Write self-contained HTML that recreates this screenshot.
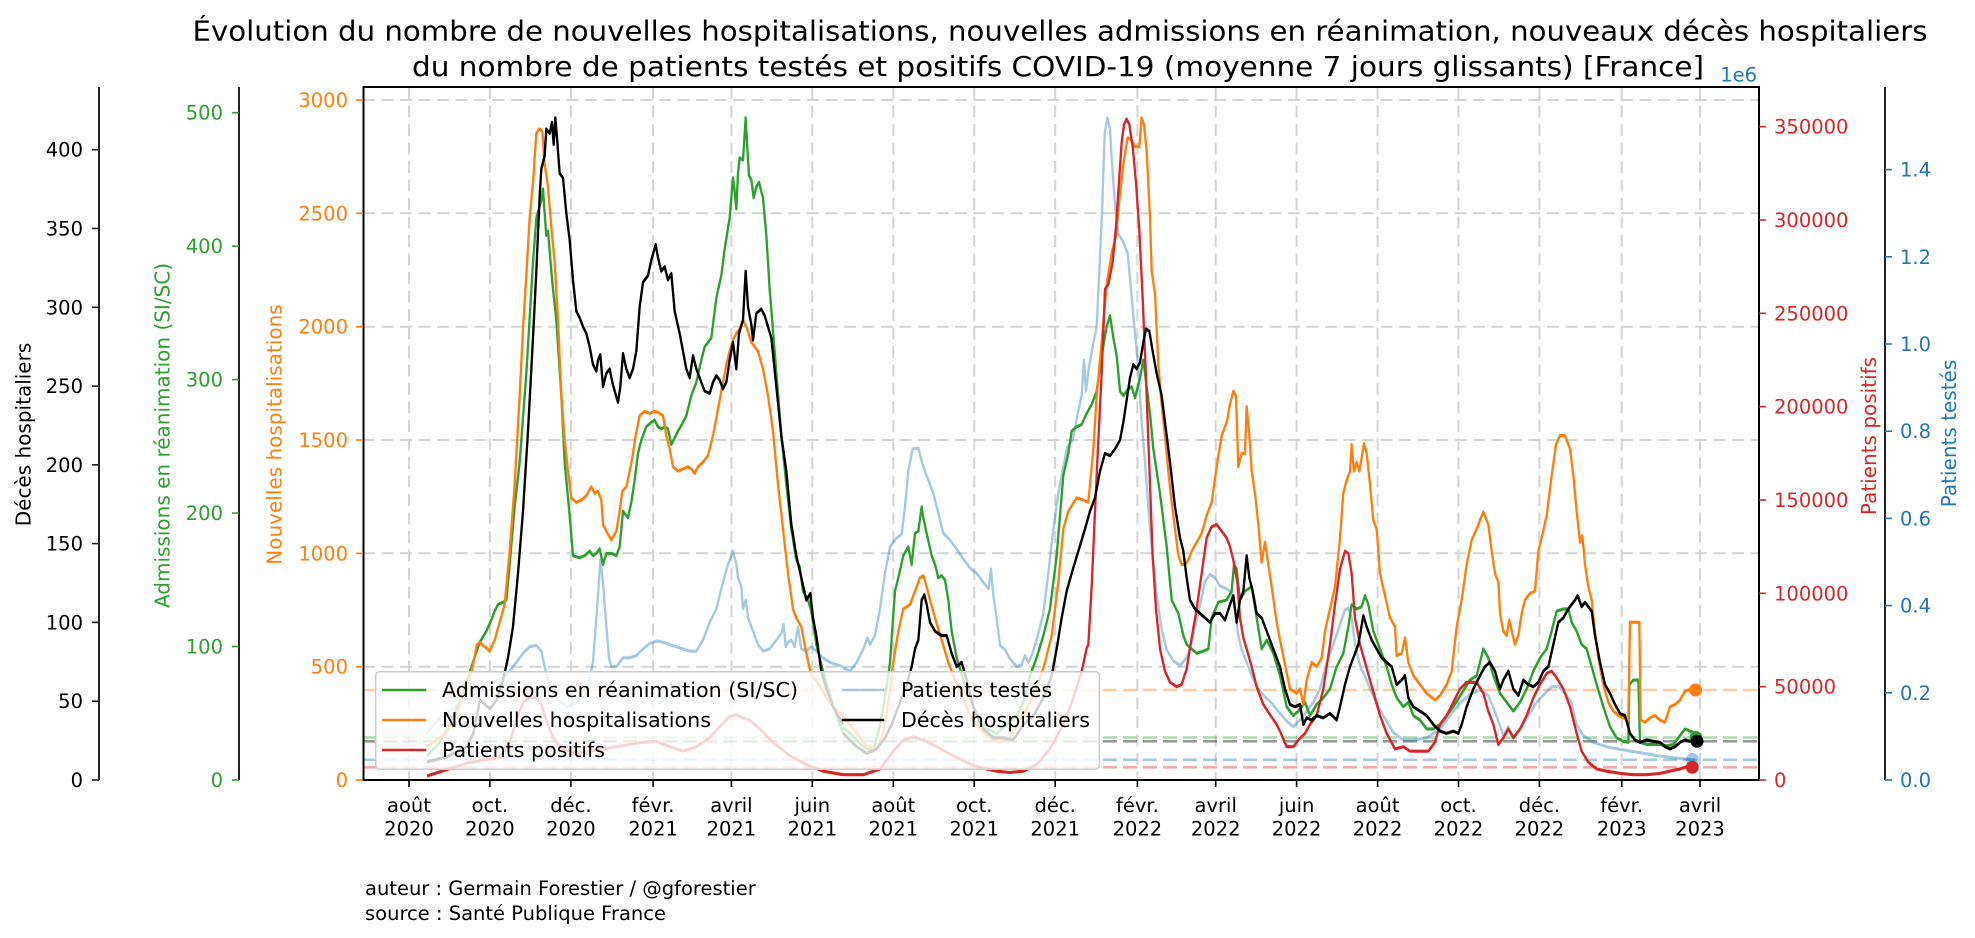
<!DOCTYPE html>
<html><head><meta charset="utf-8"><style>
html,body{margin:0;padding:0;background:#fff;}
svg{display:block;font-family:"DejaVu Sans","Liberation Sans",sans-serif;}
.s{fill:none;stroke-width:7;stroke-linejoin:round;stroke-linecap:butt;}
.t{font-size:19.5px;}
</style></head><body>
<svg width="1975" height="938" viewBox="0 0 1975 938" xmlns="http://www.w3.org/2000/svg">
<rect width="1975" height="938" fill="#fff"/>
<defs><clipPath id="c"><rect x="364" y="87" width="1395" height="693"/></clipPath></defs>

<!-- title -->
<text x="1060" y="40.7" font-size="28" text-anchor="middle" textLength="1735" lengthAdjust="spacingAndGlyphs">Évolution du nombre de nouvelles hospitalisations, nouvelles admissions en réanimation, nouveaux décès hospitaliers</text>
<text x="1058" y="76" font-size="28" text-anchor="middle" textLength="1292" lengthAdjust="spacingAndGlyphs">du nombre de patients testés et positifs COVID-19 (moyenne 7 jours glissants) [France]</text>

<!-- grid -->
<g stroke="#d4d4d4" stroke-width="2" stroke-dasharray="12 6.5">
<line x1="409" y1="87" x2="409" y2="780"/><line x1="489.9" y1="87" x2="489.9" y2="780"/><line x1="570.9" y1="87" x2="570.9" y2="780"/><line x1="653.1" y1="87" x2="653.1" y2="780"/><line x1="731.4" y1="87" x2="731.4" y2="780"/><line x1="812.3" y1="87" x2="812.3" y2="780"/><line x1="893.3" y1="87" x2="893.3" y2="780"/><line x1="974.2" y1="87" x2="974.2" y2="780"/><line x1="1055.2" y1="87" x2="1055.2" y2="780"/><line x1="1137.4" y1="87" x2="1137.4" y2="780"/><line x1="1215.7" y1="87" x2="1215.7" y2="780"/><line x1="1296.6" y1="87" x2="1296.6" y2="780"/><line x1="1377.6" y1="87" x2="1377.6" y2="780"/><line x1="1458.5" y1="87" x2="1458.5" y2="780"/><line x1="1539.4" y1="87" x2="1539.4" y2="780"/><line x1="1621.7" y1="87" x2="1621.7" y2="780"/><line x1="1700" y1="87" x2="1700" y2="780"/>
<line x1="363" y1="666.7" x2="1759" y2="666.7"/><line x1="363" y1="553.3" x2="1759" y2="553.3"/><line x1="363" y1="440" x2="1759" y2="440"/><line x1="363" y1="326.7" x2="1759" y2="326.7"/><line x1="363" y1="213.3" x2="1759" y2="213.3"/><line x1="363" y1="100" x2="1759" y2="100"/>
</g>

<!-- last value dashed lines -->
<g stroke-width="2.6" stroke-dasharray="14 6">
<line x1="363" y1="690" x2="1759" y2="690" stroke="#ff7f0e" stroke-opacity="0.4"/>
<line x1="363" y1="737.5" x2="1759" y2="737.5" stroke="#2ca02c" stroke-opacity="0.4"/>
<line x1="363" y1="741.3" x2="1759" y2="741.3" stroke="#000" stroke-opacity="0.4"/>
<line x1="363" y1="759.8" x2="1759" y2="759.8" stroke="#1f77b4" stroke-opacity="0.4"/>
<line x1="363" y1="767.3" x2="1759" y2="767.3" stroke="#d62728" stroke-opacity="0.4"/>
</g>

<g clip-path="url(#c)">
<!-- segment 1 -->
<g transform="translate(363,84.5) scale(0.333333,0.44444)">
<path class="s" stroke="#1f77b4" stroke-opacity="0.4" d="M192,1460 L230,1425 280,1398 330,1375 380,1350 430,1330 460,1300 480,1280 500,1265 520,1262 535,1275 545,1310 555,1340 580,1380 610,1400 640,1392 670,1372 690,1300 705,1150 712,1070 720,1120 728,1200 738,1290 745,1310 760,1310 770,1300 780,1290 800,1290 820,1285 840,1270 860,1258 880,1252 900,1255 920,1260 940,1265 960,1270 980,1275 1000,1275 1020,1250 1040,1210 1060,1180 1080,1120 1095,1080 1110,1050 1120,1080 1125,1110 1135,1130 1140,1180 1148,1160 1155,1200 1170,1230 1185,1260 1200,1275 1220,1270 1240,1250 1255,1235 1262,1215 1268,1265 1275,1255 1285,1250 1295,1265 1305,1220 1315,1270 1330,1275 1345,1265 1360,1275 1380,1290 1400,1300 1420,1305 1440,1310"/>
<path class="s" stroke="#2ca02c" d="M192,1511 L230,1480 260,1440 290,1390 310,1345 330,1300 350,1255 370,1230 385,1205 395,1185 405,1170 420,1165 430,1160 440,1080 455,950 470,850 490,650 510,400 520,300 535,260 540,235 545,290 550,340 555,330 565,420 570,460 580,530 595,700 605,850 620,970 630,1060 650,1065 665,1060 680,1050 690,1060 700,1055 710,1045 720,1080 730,1055 745,1055 760,1060 770,1040 780,960 795,975 805,940 815,890 825,830 835,800 850,770 865,760 875,755 885,770 895,775 905,770 915,775 925,810 935,795 945,780 960,760 970,745 985,700 1000,670 1015,620 1025,590 1045,570 1060,480 1075,430 1085,370 1100,300 1110,210 1115,240 1120,280 1125,200 1130,165 1140,170 1148,75 1152,130 1158,205 1165,215 1172,255 1180,230 1188,220 1200,255 1210,340 1220,460 1235,600 1255,790 1270,900 1285,1000 1300,1070 1310,1085 1320,1140 1335,1160 1345,1185 1360,1260 1380,1320 1400,1370 1420,1420 1440,1460"/>
<path class="s" stroke="#ff7f0e" d="M192,1490 L251,1459 290,1400 326,1321 341,1262 350,1255 365,1265 380,1275 395,1250 410,1210 425,1170 440,1050 455,900 470,700 480,550 490,430 500,300 510,220 520,110 528,100 538,105 545,180 555,230 565,320 575,400 585,530 595,700 605,800 615,870 625,930 640,940 655,935 670,925 685,905 695,920 705,915 715,935 720,990 730,1005 745,1025 760,1005 770,960 778,915 790,905 800,870 808,840 818,790 830,745 845,735 860,740 875,735 890,740 900,745 910,790 920,820 930,860 945,870 960,865 975,860 985,865 995,875 1005,860 1020,850 1035,835 1050,790 1065,730 1075,690 1090,630 1100,600 1110,575 1120,560 1130,550 1140,530 1150,545 1165,580 1185,600 1200,640 1215,700 1230,780 1245,900 1260,1000 1275,1100 1290,1180 1300,1200 1315,1220 1330,1280 1345,1330 1360,1340 1375,1360 1390,1380 1410,1400 1440,1420"/>
<path class="s" stroke="#d62728" d="M192,1556 L311,1527 411,1513 440,1480 460,1430 480,1390 500,1378 520,1380 535,1395 550,1430 570,1470 600,1495 640,1505 680,1500 720,1495 760,1490 800,1485 840,1480 880,1478 920,1490 960,1500 1000,1490 1040,1470 1070,1445 1100,1422 1120,1418 1140,1425 1160,1430 1190,1450 1230,1480 1280,1510 1330,1530 1380,1545 1440,1553"/>
<path class="s" stroke="#000" d="M192,1524 L251,1513 311,1490 331,1460 351,1385 381,1405 401,1385 420,1340 435,1290 450,1220 465,1100 480,960 495,780 510,570 520,420 530,250 535,190 545,160 550,100 560,110 567,85 572,135 577,75 582,120 590,200 600,210 610,290 620,350 630,440 640,510 650,525 660,545 670,560 680,590 690,630 700,645 705,620 712,608 720,680 730,650 740,640 748,670 755,690 765,715 772,680 780,605 790,640 800,660 810,640 820,600 830,500 840,445 855,430 865,395 878,360 885,390 895,420 905,410 915,440 925,425 935,510 950,560 960,600 970,640 980,660 990,610 1000,640 1015,670 1025,690 1040,695 1050,670 1060,655 1070,665 1080,685 1090,670 1100,620 1110,580 1120,640 1128,560 1140,530 1148,420 1155,500 1165,540 1170,575 1180,515 1195,505 1205,520 1215,545 1225,570 1240,680 1255,790 1270,870 1285,990 1300,1060 1315,1110 1330,1160 1342,1145 1350,1200 1360,1240 1375,1320 1390,1360 1410,1400 1440,1440"/>
</g>
<!-- segment 2 -->
<g transform="translate(830,84.5) scale(0.333333,0.44444)">
<path class="s" stroke="#1f77b4" stroke-opacity="0.4" d="M39,1312 L60,1320 80,1300 100,1270 112,1245 120,1260 135,1240 150,1180 165,1100 180,1040 200,1020 215,1012 225,950 235,870 248,820 265,818 280,860 295,890 310,920 325,965 340,1010 360,1025 380,1045 400,1068 420,1088 440,1100 460,1120 476,1135 483,1090 490,1150 500,1200 510,1262 525,1272 540,1292 560,1310 575,1305 585,1285 595,1300 605,1285 620,1250 640,1190 655,1100 670,1000 685,920 700,860 712,815 728,800 742,745 755,700 762,620 768,690 776,640 788,590 800,545 808,420 816,290 824,110 832,75 840,100 848,200 855,270 865,335 880,355 893,380 903,460 915,560 925,640 935,760 945,850 955,950 965,1040 980,1150 995,1225 1010,1272 1030,1297 1050,1307 1070,1290 1085,1255 1100,1205 1115,1155 1125,1118 1140,1102 1155,1110 1170,1128 1190,1135 1205,1142 1215,1185 1225,1240 1235,1272 1250,1300 1265,1330 1285,1360 1305,1378 1325,1392 1350,1415"/>
<path class="s" stroke="#2ca02c" d="M39,1446 L60,1460 100,1490 130,1500 150,1440 165,1380 180,1300 195,1140 205,1110 220,1060 235,1040 245,1080 255,1010 265,1005 275,950 280,975 290,1010 305,1060 315,1080 325,1110 335,1105 345,1115 355,1160 365,1230 380,1290 400,1340 420,1380 440,1420 470,1450 500,1460 530,1440 560,1420 580,1390 600,1330 620,1290 640,1240 660,1180 680,1060 700,880 715,830 725,780 740,770 755,765 770,740 785,720 800,690 815,610 830,545 840,520 850,570 860,610 870,690 880,700 895,685 905,680 915,705 930,660 940,620 950,680 960,740 970,820 990,920 1010,1040 1025,1160 1045,1190 1060,1240 1070,1260 1085,1270 1100,1280 1120,1275 1135,1270 1145,1200 1165,1165 1190,1160 1205,1140 1212,1080 1220,1090 1230,1160 1245,1140 1265,1130 1280,1200 1295,1270 1310,1250 1330,1280 1350,1330"/>
<path class="s" stroke="#ff7f0e" d="M39,1420 L80,1460 110,1490 140,1495 160,1460 175,1390 190,1300 205,1230 220,1180 240,1170 255,1140 270,1110 280,1105 290,1130 300,1160 315,1200 335,1250 355,1300 375,1340 395,1370 420,1420 450,1450 480,1470 510,1480 540,1470 570,1430 600,1390 625,1350 645,1300 665,1240 685,1120 700,1000 715,960 740,930 760,935 775,940 790,820 800,700 815,580 830,450 845,380 858,340 868,260 880,180 893,120 905,125 915,140 928,140 935,75 942,90 950,150 960,300 965,420 975,470 985,630 995,720 1005,790 1015,870 1025,940 1035,1000 1045,1060 1055,1080 1065,1080 1075,1070 1085,1050 1100,1030 1115,1010 1130,970 1145,940 1160,860 1175,790 1190,760 1200,720 1210,690 1218,700 1225,860 1235,830 1245,830 1250,725 1258,790 1265,870 1275,920 1285,990 1295,1075 1305,1030 1315,1080 1325,1130 1340,1210 1350,1250"/>
<path class="s" stroke="#d62728" d="M39,1553 L100,1553 150,1540 190,1500 220,1475 250,1468 280,1475 320,1490 380,1515 440,1535 500,1545 540,1548 580,1545 620,1530 660,1495 700,1440 730,1380 755,1320 770,1268 775,1260 785,1130 795,960 805,800 815,650 825,460 835,450 848,400 858,320 866,230 875,130 882,90 890,78 898,90 908,140 918,220 928,330 938,480 948,660 958,860 968,1060 978,1180 990,1270 1005,1320 1020,1345 1040,1355 1055,1350 1070,1315 1085,1245 1100,1180 1115,1100 1130,1020 1145,995 1160,990 1175,1005 1190,1020 1200,1040 1210,1070 1222,1120 1230,1200 1240,1245 1252,1275 1265,1310 1280,1355 1300,1395 1320,1418 1340,1440 1350,1455"/>
<path class="s" stroke="#000" d="M39,1459 L80,1490 110,1505 140,1495 165,1470 185,1440 210,1390 230,1350 245,1310 255,1270 265,1250 275,1160 283,1148 290,1170 300,1210 315,1230 335,1240 350,1240 365,1280 380,1310 395,1300 410,1340 430,1400 460,1450 490,1470 520,1470 550,1475 580,1440 610,1420 640,1380 665,1330 680,1270 695,1200 710,1140 725,1100 745,1050 765,1000 780,960 795,930 810,870 825,830 840,835 855,820 870,800 880,760 890,710 900,660 910,630 920,640 930,625 940,580 948,550 958,555 968,600 980,650 995,700 1005,760 1020,850 1035,950 1050,1020 1060,1050 1070,1110 1080,1160 1095,1180 1110,1190 1125,1200 1140,1210 1155,1190 1170,1190 1185,1205 1200,1170 1210,1150 1220,1210 1230,1160 1240,1140 1250,1060 1258,1110 1268,1140 1280,1190 1295,1200 1310,1230 1325,1260 1340,1290 1350,1310"/>
</g>
<!-- segment 3 -->
<g transform="translate(1280,84.5) scale(0.333333,0.44444)">
<path class="s" stroke="#1f77b4" stroke-opacity="0.4" d="M0,1415 L20,1432 40,1445 60,1430 80,1410 100,1390 120,1360 140,1300 160,1260 180,1215 195,1182 205,1178 215,1200 225,1260 235,1292 245,1318 255,1330 270,1360 290,1392 310,1420 340,1458 370,1475 400,1475 440,1470 480,1450 510,1420 540,1392 570,1372 600,1362 625,1375 640,1402 655,1432 670,1465 685,1445 700,1470 720,1452 745,1420 770,1390 795,1370 815,1355 835,1355 855,1370 875,1392 890,1440 910,1465 940,1480 980,1490 1020,1496 1060,1501 1100,1506 1140,1511 1180,1515 1220,1518 1245,1520"/>
<path class="s" stroke="#2ca02c" d="M0,1330 L20,1400 40,1420 55,1410 75,1390 90,1420 110,1395 130,1380 150,1360 170,1310 190,1280 205,1220 215,1170 230,1180 245,1175 255,1150 265,1170 280,1230 300,1270 320,1310 335,1350 350,1380 370,1400 385,1390 400,1420 420,1430 440,1450 460,1450 480,1440 500,1420 520,1400 545,1370 570,1340 590,1330 610,1270 625,1290 640,1330 660,1370 680,1390 700,1410 720,1390 740,1360 760,1320 780,1290 800,1270 815,1230 830,1185 850,1180 865,1180 875,1210 890,1230 905,1260 920,1270 935,1310 950,1350 970,1400 990,1445 1010,1470 1030,1478 1045,1480 1048,1350 1060,1340 1075,1340 1080,1480 1100,1485 1120,1485 1140,1485 1160,1488 1180,1485 1200,1465 1215,1450 1230,1455 1245,1460 1255,1466"/>
<path class="s" stroke="#ff7f0e" d="M0,1250 L30,1360 50,1370 60,1360 70,1395 80,1340 95,1300 110,1310 125,1290 135,1230 150,1180 165,1130 180,1020 190,920 200,890 210,870 215,810 222,870 230,850 238,870 245,840 252,808 260,830 270,900 280,980 290,1000 300,1100 315,1150 330,1200 345,1220 350,1285 365,1280 375,1245 385,1300 400,1330 420,1350 440,1370 465,1385 480,1375 500,1350 515,1320 530,1220 545,1160 560,1080 575,1025 590,1000 600,980 610,962 625,990 635,1050 645,1100 655,1120 660,1190 670,1230 680,1240 688,1205 695,1230 705,1260 715,1240 725,1190 735,1160 750,1145 765,1140 775,1050 785,1020 800,970 815,880 828,810 840,790 855,790 870,820 880,880 890,960 900,1030 907,1015 915,1080 925,1130 935,1160 945,1230 955,1290 970,1350 985,1390 1000,1410 1015,1420 1030,1425 1045,1430 1050,1210 1070,1210 1078,1210 1082,1430 1095,1435 1110,1425 1125,1420 1140,1430 1155,1435 1170,1400 1185,1395 1200,1385 1215,1365 1235,1360 1250,1362"/>
<path class="s" stroke="#d62728" d="M0,1455 L20,1490 40,1490 55,1475 75,1460 90,1440 110,1420 130,1360 150,1260 165,1170 180,1090 195,1050 205,1055 215,1100 225,1200 240,1260 255,1300 270,1340 285,1380 300,1420 320,1460 345,1495 370,1490 390,1500 420,1500 445,1500 465,1480 480,1440 500,1420 520,1390 540,1360 560,1345 590,1345 610,1370 625,1410 640,1440 655,1485 670,1470 685,1450 700,1470 720,1450 740,1420 760,1380 780,1350 800,1325 815,1320 830,1335 850,1360 870,1400 890,1460 905,1500 925,1525 950,1540 980,1545 1020,1550 1060,1553 1100,1553 1140,1550 1170,1545 1200,1540 1220,1535 1245,1535"/>
<path class="s" stroke="#000" d="M0,1310 L15,1360 30,1395 45,1400 60,1395 70,1440 80,1425 95,1430 110,1420 130,1425 150,1415 170,1430 180,1400 195,1350 210,1310 220,1290 235,1260 250,1195 260,1220 275,1250 290,1270 305,1290 320,1300 335,1310 350,1350 365,1340 375,1330 385,1380 400,1400 420,1410 440,1420 460,1440 480,1455 500,1460 520,1455 535,1460 545,1440 560,1400 580,1360 600,1330 615,1310 630,1300 645,1320 660,1360 670,1340 685,1320 700,1360 715,1375 730,1340 745,1350 760,1355 775,1345 790,1320 805,1310 820,1260 835,1210 850,1200 865,1180 875,1170 885,1160 893,1150 905,1175 915,1165 925,1175 935,1185 945,1240 960,1300 975,1350 990,1370 1005,1395 1020,1415 1035,1420 1050,1460 1065,1475 1080,1480 1100,1475 1120,1478 1140,1480 1155,1490 1170,1495 1185,1490 1200,1480 1215,1475 1230,1478 1250,1477"/>
</g>
</g>

<!-- end markers -->
<circle cx="1695.5" cy="690" r="6.5" fill="#ff7f0e"/>
<circle cx="1696" cy="737.5" r="6.5" fill="#2ca02c"/>
<circle cx="1692.5" cy="759.5" r="6.5" fill="#1f77b4" fill-opacity="0.4"/>
<circle cx="1692.3" cy="767.3" r="6.5" fill="#d62728"/>
<circle cx="1697" cy="741.3" r="6.5" fill="#000"/>

<!-- legend -->
<rect x="375.7" y="671.7" width="723.6" height="97.6" rx="4" fill="#fff" fill-opacity="0.8" stroke="#cccccc" stroke-width="1.5"/>
<g stroke-width="2.6">
<line x1="382" y1="690" x2="426.3" y2="690" stroke="#2ca02c"/>
<line x1="382" y1="720" x2="426.3" y2="720" stroke="#ff7f0e"/>
<line x1="382" y1="750" x2="426.3" y2="750" stroke="#d62728"/>
<line x1="841.7" y1="690" x2="884.3" y2="690" stroke="#1f77b4" stroke-opacity="0.4"/>
<line x1="841.7" y1="720" x2="884.3" y2="720" stroke="#000"/>
</g>
<g font-size="20">
<text x="442" y="697" textLength="356" lengthAdjust="spacingAndGlyphs">Admissions en réanimation (SI/SC)</text>
<text x="442" y="727" textLength="269" lengthAdjust="spacingAndGlyphs">Nouvelles hospitalisations</text>
<text x="442" y="757" textLength="163" lengthAdjust="spacingAndGlyphs">Patients positifs</text>
<text x="901" y="697" textLength="151" lengthAdjust="spacingAndGlyphs">Patients testés</text>
<text x="901" y="727" textLength="189" lengthAdjust="spacingAndGlyphs">Décès hospitaliers</text>
</g>

<!-- main axes box -->
<rect x="363.5" y="87" width="1395.5" height="693" fill="none" stroke="#000" stroke-width="2"/>

<!-- x ticks -->
<g stroke="#000" stroke-width="1.6">
<line x1="409" y1="780" x2="409" y2="787"/><line x1="489.9" y1="780" x2="489.9" y2="787"/><line x1="570.9" y1="780" x2="570.9" y2="787"/><line x1="653.1" y1="780" x2="653.1" y2="787"/><line x1="731.4" y1="780" x2="731.4" y2="787"/><line x1="812.3" y1="780" x2="812.3" y2="787"/><line x1="893.3" y1="780" x2="893.3" y2="787"/><line x1="974.2" y1="780" x2="974.2" y2="787"/><line x1="1055.2" y1="780" x2="1055.2" y2="787"/><line x1="1137.4" y1="780" x2="1137.4" y2="787"/><line x1="1215.7" y1="780" x2="1215.7" y2="787"/><line x1="1296.6" y1="780" x2="1296.6" y2="787"/><line x1="1377.6" y1="780" x2="1377.6" y2="787"/><line x1="1458.5" y1="780" x2="1458.5" y2="787"/><line x1="1539.4" y1="780" x2="1539.4" y2="787"/><line x1="1621.7" y1="780" x2="1621.7" y2="787"/><line x1="1700" y1="780" x2="1700" y2="787"/>
</g>
<g class="t" text-anchor="middle">
<text x="409" y="812">août</text><text x="409" y="835.5">2020</text>
<text x="489.9" y="812">oct.</text><text x="489.9" y="835.5">2020</text>
<text x="570.9" y="812">déc.</text><text x="570.9" y="835.5">2020</text>
<text x="653.1" y="812">févr.</text><text x="653.1" y="835.5">2021</text>
<text x="731.4" y="812">avril</text><text x="731.4" y="835.5">2021</text>
<text x="812.3" y="812">juin</text><text x="812.3" y="835.5">2021</text>
<text x="893.3" y="812">août</text><text x="893.3" y="835.5">2021</text>
<text x="974.2" y="812">oct.</text><text x="974.2" y="835.5">2021</text>
<text x="1055.2" y="812">déc.</text><text x="1055.2" y="835.5">2021</text>
<text x="1137.4" y="812">févr.</text><text x="1137.4" y="835.5">2022</text>
<text x="1215.7" y="812">avril</text><text x="1215.7" y="835.5">2022</text>
<text x="1296.6" y="812">juin</text><text x="1296.6" y="835.5">2022</text>
<text x="1377.6" y="812">août</text><text x="1377.6" y="835.5">2022</text>
<text x="1458.5" y="812">oct.</text><text x="1458.5" y="835.5">2022</text>
<text x="1539.4" y="812">déc.</text><text x="1539.4" y="835.5">2022</text>
<text x="1621.7" y="812">févr.</text><text x="1621.7" y="835.5">2023</text>
<text x="1700" y="812">avril</text><text x="1700" y="835.5">2023</text>
</g>

<!-- Décès axis -->
<line x1="99" y1="87" x2="99" y2="780" stroke="#222" stroke-width="2"/>
<g stroke="#222" stroke-width="1.6">
<line x1="92" y1="780" x2="99" y2="780"/><line x1="92" y1="701.2" x2="99" y2="701.2"/><line x1="92" y1="622.4" x2="99" y2="622.4"/><line x1="92" y1="543.6" x2="99" y2="543.6"/><line x1="92" y1="464.8" x2="99" y2="464.8"/><line x1="92" y1="386.1" x2="99" y2="386.1"/><line x1="92" y1="307.3" x2="99" y2="307.3"/><line x1="92" y1="228.5" x2="99" y2="228.5"/><line x1="92" y1="149.7" x2="99" y2="149.7"/>
</g>
<g class="t" text-anchor="end">
<text x="83" y="787">0</text><text x="83" y="708.2">50</text><text x="83" y="629.4">100</text><text x="83" y="550.6">150</text><text x="83" y="471.8">200</text><text x="83" y="393.1">250</text><text x="83" y="314.3">300</text><text x="83" y="235.5">350</text><text x="83" y="156.7">400</text>
</g>
<text transform="translate(30.5,434.5) rotate(-90)" font-size="20" text-anchor="middle">Décès hospitaliers</text>

<!-- Admissions axis -->
<line x1="239" y1="87" x2="239" y2="780" stroke="#222" stroke-width="2"/>
<g stroke="#2ca02c" stroke-width="1.6">
<line x1="232" y1="780" x2="239" y2="780"/><line x1="232" y1="646.5" x2="239" y2="646.5"/><line x1="232" y1="513.1" x2="239" y2="513.1"/><line x1="232" y1="379.6" x2="239" y2="379.6"/><line x1="232" y1="246.1" x2="239" y2="246.1"/><line x1="232" y1="112.7" x2="239" y2="112.7"/>
</g>
<g class="t" text-anchor="end" fill="#2ca02c">
<text x="223" y="787">0</text><text x="223" y="653.5">100</text><text x="223" y="520.1">200</text><text x="223" y="386.6">300</text><text x="223" y="253.1">400</text><text x="223" y="119.7">500</text>
</g>
<text transform="translate(169.5,435.5) rotate(-90)" font-size="20" text-anchor="middle" fill="#2ca02c">Admissions en réanimation (SI/SC)</text>

<!-- Orange axis -->
<g stroke="#ff7f0e" stroke-width="1.6">
<line x1="356" y1="780" x2="363" y2="780"/><line x1="356" y1="666.7" x2="363" y2="666.7"/><line x1="356" y1="553.3" x2="363" y2="553.3"/><line x1="356" y1="440" x2="363" y2="440"/><line x1="356" y1="326.7" x2="363" y2="326.7"/><line x1="356" y1="213.3" x2="363" y2="213.3"/><line x1="356" y1="100" x2="363" y2="100"/>
</g>
<g class="t" text-anchor="end" fill="#ff7f0e">
<text x="348" y="787">0</text><text x="348" y="673.7">500</text><text x="348" y="560.3">1000</text><text x="348" y="447">1500</text><text x="348" y="333.7">2000</text><text x="348" y="220.3">2500</text><text x="348" y="107">3000</text>
</g>
<text transform="translate(281.5,434.5) rotate(-90)" font-size="20" text-anchor="middle" fill="#ff7f0e">Nouvelles hospitalisations</text>

<!-- Red axis -->
<g stroke="#d62728" stroke-width="1.6">
<line x1="1759" y1="780" x2="1766" y2="780"/><line x1="1759" y1="686.7" x2="1766" y2="686.7"/><line x1="1759" y1="593.3" x2="1766" y2="593.3"/><line x1="1759" y1="500" x2="1766" y2="500"/><line x1="1759" y1="406.7" x2="1766" y2="406.7"/><line x1="1759" y1="313.3" x2="1766" y2="313.3"/><line x1="1759" y1="220" x2="1766" y2="220"/><line x1="1759" y1="126.7" x2="1766" y2="126.7"/>
</g>
<g class="t" fill="#d62728">
<text x="1774" y="787">0</text><text x="1774" y="693.7">50000</text><text x="1774" y="600.3">100000</text><text x="1774" y="507">150000</text><text x="1774" y="413.7">200000</text><text x="1774" y="320.3">250000</text><text x="1774" y="227">300000</text><text x="1774" y="133.7">350000</text>
</g>
<text transform="translate(1876,436) rotate(-90)" font-size="20" text-anchor="middle" fill="#d62728">Patients positifs</text>

<!-- Blue axis -->
<line x1="1885" y1="87" x2="1885" y2="780" stroke="#222" stroke-width="2"/>
<g stroke="#1f77b4" stroke-width="1.6">
<line x1="1885" y1="780" x2="1892" y2="780"/><line x1="1885" y1="692.8" x2="1892" y2="692.8"/><line x1="1885" y1="605.6" x2="1892" y2="605.6"/><line x1="1885" y1="518.4" x2="1892" y2="518.4"/><line x1="1885" y1="431.2" x2="1892" y2="431.2"/><line x1="1885" y1="344" x2="1892" y2="344"/><line x1="1885" y1="256.8" x2="1892" y2="256.8"/><line x1="1885" y1="169.6" x2="1892" y2="169.6"/>
</g>
<g class="t" fill="#1f77b4">
<text x="1900" y="787">0.0</text><text x="1900" y="699.8">0.2</text><text x="1900" y="612.6">0.4</text><text x="1900" y="525.4">0.6</text><text x="1900" y="438.2">0.8</text><text x="1900" y="351">1.0</text><text x="1900" y="263.8">1.2</text><text x="1900" y="176.6">1.4</text>
</g>
<text x="1757" y="81.5" class="t" text-anchor="end" fill="#1f77b4">1e6</text>
<text transform="translate(1956,433.5) rotate(-90)" font-size="20" text-anchor="middle" fill="#1f77b4">Patients testés</text>

<!-- footer -->
<text x="365" y="895" class="t">auteur : Germain Forestier / @gforestier</text>
<text x="365" y="920" class="t">source : Santé Publique France</text>
</svg>
</body></html>
